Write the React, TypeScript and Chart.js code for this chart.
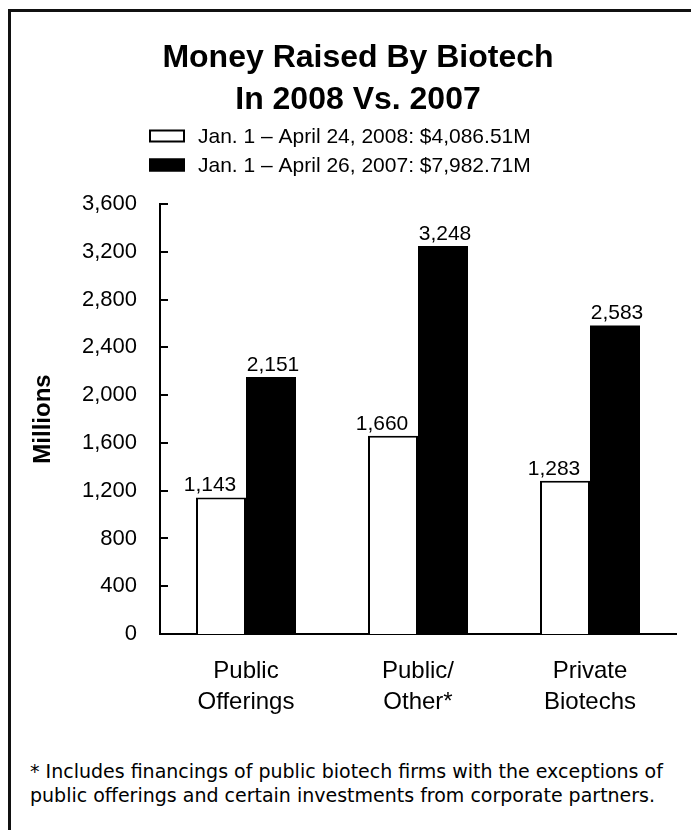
import React, { useEffect, useRef } from 'react';
import { Chart, registerables } from 'chart.js';

Chart.register(...registerables);

const titleLines = ['Money Raised By Biotech', 'In 2008 Vs. 2007'];
const categories = [['Public', 'Offerings'], ['Public/', 'Other*'], ['Private', 'Biotechs']];
const label2008 = 'Jan. 1 – April 24, 2008: $4,086.51M';
const values2008 = [1143, 1660, 1283];
const label2007 = 'Jan. 1 – April 26, 2007: $7,982.71M';
const values2007 = [2151, 3248, 2583];
const yMin = 0;
const yMax = 3600;
const yStep = 400;
const yAxisTitle = 'Millions';
const footnoteLines = [
  '* Includes financings of public biotech firms with the exceptions of',
  'public offerings and certain investments from corporate partners.',
];

const SANS = '"Liberation Sans", Arial, Helvetica, sans-serif';

const headerPlugin = {
  id: 'headerPlugin',
  afterDraw(chart: any) {
    const ctx = chart.ctx;
    ctx.save();
    ctx.fillStyle = '#000';
    ctx.textAlign = 'center';
    ctx.textBaseline = 'middle';
    ctx.font = `bold 32px ${SANS}`;
    const cx = 347;
    titleLines.forEach((t, i) => ctx.fillText(t, cx, 46 + i * 42));
    // legend
    ctx.font = `21px ${SANS}`;
    ctx.textAlign = 'left';
    chart.data.datasets.forEach((ds: any, i: number) => {
      const y = 124 + i * 29;
      ctx.fillStyle = ds.backgroundColor;
      ctx.fillRect(138, y - 6.5, 36, 13);
      ctx.strokeStyle = '#000';
      ctx.lineWidth = 2;
      ctx.strokeRect(139, y - 5.5, 34, 11);
      ctx.fillStyle = '#000';
      ctx.fillText(ds.label, 187, y + 1);
    });
    ctx.restore();
  },
};

const innerTicksPlugin = {
  id: 'innerTicks',
  afterDraw(chart: any) {
    const ctx = chart.ctx;
    const ys = chart.scales.y;
    const left = chart.chartArea.left;
    ctx.save();
    ctx.strokeStyle = '#000';
    ctx.lineWidth = 2;
    ys.ticks.forEach((t: any) => {
      const py = Math.round(ys.getPixelForValue(t.value));
      ctx.beginPath();
      ctx.moveTo(left, py);
      ctx.lineTo(left + 8, py);
      ctx.stroke();
    });
    ctx.restore();
  },
};

const valueLabelPlugin = {
  id: 'valueLabels',
  afterDatasetsDraw(chart: any) {
    const ctx = chart.ctx;
    ctx.save();
    ctx.fillStyle = '#000';
    ctx.font = `21px ${SANS}`;
    ctx.textAlign = 'center';
    ctx.textBaseline = 'alphabetic';
    chart.data.datasets.forEach((ds: any, di: number) => {
      const meta = chart.getDatasetMeta(di);
      const dx = di === 0 ? -11 : 2;
      meta.data.forEach((bar: any, i: number) => {
        const v = ds.data[i];
        ctx.fillText(v.toLocaleString('en-US'), bar.x + dx, bar.y - 6);
      });
    });
    ctx.restore();
  },
};

function BiotechChart() {
  const ref = useRef<HTMLCanvasElement | null>(null);
  useEffect(() => {
    if (!ref.current) return;
    const chart = new Chart(ref.current, {
      type: 'bar',
      data: {
        labels: categories as any,
        datasets: [
          {
            label: label2008,
            data: values2008,
            backgroundColor: '#ffffff',
            borderColor: '#000000',
            borderWidth: 2,
            barPercentage: 1,
            categoryPercentage: 100 / 172,
          },
          {
            label: label2007,
            data: values2007,
            backgroundColor: '#000000',
            borderColor: '#000000',
            borderWidth: 0,
            barPercentage: 1,
            categoryPercentage: 100 / 172,
          },
        ],
      },
      options: {
        animation: false,
        responsive: true,
        maintainAspectRatio: false,
        devicePixelRatio: 1,
        locale: 'en-US',
        layout: { padding: { top: 192, right: 32, left: 0, bottom: 0 } },
        plugins: {
          legend: { display: false },
          title: { display: false },
          tooltip: { enabled: false },
        },
        scales: {
          x: {
            grid: { display: false, drawTicks: false },
            border: { display: true, color: '#000', width: 2 },
            ticks: {
              color: '#000',
              font: { family: SANS, size: 24, lineHeight: 1.3 },
              padding: 22,
              maxRotation: 0,
              autoSkip: false,
            },
            afterFit: (s: any) => {
              s.height = 106;
            },
          },
          y: {
            min: yMin,
            max: yMax,
            grid: { display: false, drawTicks: false },
            border: { display: true, color: '#000', width: 2 },
            ticks: {
              stepSize: yStep,
              color: '#000',
              font: { family: SANS, size: 22 },
              padding: 23,
              callback: (v: any) => Number(v).toLocaleString('en-US'),
            },
            title: {
              display: true,
              text: yAxisTitle,
              color: '#000',
              font: { family: SANS, size: 24, weight: 'bold' },
              padding: { top: 18, bottom: 0 },
            },
            afterFit: (s: any) => {
              s.width = 149;
            },
          },
        },
      },
      plugins: [headerPlugin, innerTicksPlugin, valueLabelPlugin],
    });
    return () => chart.destroy();
  }, []);
  return (
    <div style={{ position: 'relative', width: 697, height: 728 }}>
      <canvas ref={ref} />
    </div>
  );
}

export default function App() {
  return (
    <div
      style={{
        position: 'absolute',
        left: 8,
        top: 9,
        width: 697,
        height: 830,
        borderLeft: '3px solid #111',
        borderTop: '3px solid #111',
        background: '#fff',
      }}
    >
      <BiotechChart />
      <div
        style={{
          position: 'absolute',
          left: 19,
          top: 747,
          fontFamily: '"DejaVu Sans", "Noto Sans", sans-serif',
          fontSize: 19,
          lineHeight: '24px',
          color: '#000',
          whiteSpace: 'nowrap',
        }}
      >
        {footnoteLines.map((l, i) => (
          <div key={i}>{l}</div>
        ))}
      </div>
    </div>
  );
}
